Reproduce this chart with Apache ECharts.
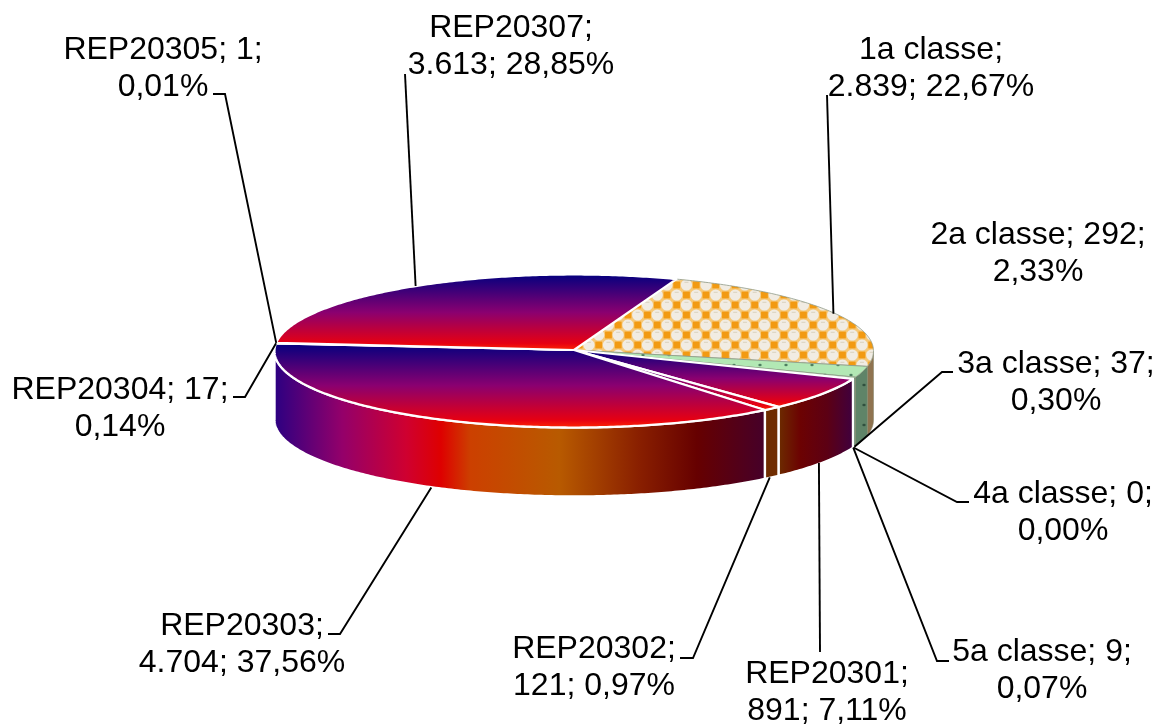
<!DOCTYPE html>
<html><head><meta charset="utf-8">
<style>html,body{margin:0;padding:0;background:#fff}#c{width:1161px;height:724px}</style>
<script src="https://cdn.jsdelivr.net/npm/echarts@6/dist/echarts.min.js"></script>
</head><body><div id="c"></div>
<script>
const categories = ['1a classe','2a classe','3a classe','4a classe','5a classe','REP20301','REP20302','REP20303','REP20304','REP20305','REP20307'];
const values = [2839,292,37,0,9,891,121,4704,17,1,3613];
const labelTexts = [
  '1a classe;\n2.839; 22,67%','2a classe; 292;\n2,33%','3a classe; 37;\n0,30%','4a classe; 0;\n0,00%','5a classe; 9;\n0,07%',
  'REP20301;\n891; 7,11%','REP20302;\n121; 0,97%','REP20303;\n4.704; 37,56%','REP20304; 17;\n0,14%','REP20305; 1;\n0,01%','REP20307;\n3.613; 28,85%'
];
// layout: label centre x / first baseline y, leader points between label and pie
const labelCx = [931,1038,1056,1063,1042,827,594,242,120,163,511];
const labelBase = [58,243,372,502,660,682,657,634,398,58,36];
const leaderEnds = [
  [[827,95]],null,[[953,372],[942,372]],[[969,502],[957,502]],[[949,661],[937,661]],
  [[820,652]],[[680,658],[693,658]],[[328,634],[340,634]],[[233,397],[245,397]],[[213,94],[225,94]],[[405,74]]
];
const anchorNudge = [-2,0,0,0,0,-3,-2,-2,0,0,0];
const onWall = [false,false,true,true,true,true,true,true,false,false,false];
const CX=574, CY=351, RX=299.5, RY=76.5, DEPTH=69, START=70;
const FONT='32px "Liberation Sans", Arial, sans-serif', LINE=37;

const total = values.reduce((a,b)=>a+b,0);
const D2R=Math.PI/180;
const angles=[]; let acc=START;
values.forEach(v=>{const a0=acc; acc-=v/total*360; angles.push([a0,acc]);});
const pt=(t,dz)=>[CX+RX*Math.cos(t*D2R),CY-RY*Math.sin(t*D2R)+(dz||0)];
function arc(t0,t1,dz){const n=Math.max(2,Math.ceil(Math.abs(t0-t1)*1.5));const r=[];for(let i=0;i<=n;i++)r.push(pt(t0+(t1-t0)*i/n,dz));return r;}

function tile(w,h,draw){const c=document.createElement('canvas');c.width=w;c.height=h;draw(c.getContext('2d'),w,h);return {image:c,repeat:'repeat'};}
const P=19.5,OX=13.7,OY=5;
const orangeP=tile(39,20,(g,w,h)=>{
  g.fillStyle='#f6c878';g.fillRect(0,0,w,h);
  const sq=[],ci=[];
  for(let i=-1;i<=3;i++)for(let j=-1;j<=2;j++){
    sq.push([i*P+OX,j*20+OY]);sq.push([i*P+OX+P/2,j*20+OY+10]);
    ci.push([i*P+OX+P/2,j*20+OY]);ci.push([i*P+OX,j*20+OY+10]);
  }
  g.fillStyle='#f29a12';sq.forEach(s=>g.fillRect(s[0]-3.4,s[1]-3.4,6.8,6.8));
  ci.forEach(s=>{g.fillStyle='#f1ece3';g.beginPath();g.arc(s[0],s[1],5.6,0,7);g.fill();
    g.fillStyle='#d9d2bf';g.fillRect(s[0]-2,s[1]-3.2,4,1);});
});
const dots=(bg,dot)=>tile(26,20,(g,w,h)=>{g.fillStyle=bg;g.fillRect(0,0,w,h);g.fillStyle=dot;
  [[6,5],[19,15]].forEach(d=>{g.beginPath();g.ellipse(d[0],d[1],1.7,1.3,0,0,7);g.fill();});});
const greenP=dots('#b2e8b4','#4d7f60');
const greenWall=dots('#5f8468','#2f4f3e');
const brownWall=dots('#8f7350','#6b5238');

const lin=(x2,y2,st)=>({type:'linear',x:0,y:0,x2,y2,colorStops:st.map(s=>({offset:s[0],color:s[1]}))});
const TOP=lin(0,1,[[0,'#00007f'],[.5,'#8a0070'],[.9,'#e60012'],[1,'#ff2a00']]);
const topFill=i=>i===0?orangeP:(i<=2||i===4?greenP:TOP);
const wallFill=i=>{
  if(i===0)return brownWall;
  if(i<=4)return greenWall;
  if(i===5)return lin(1,0,[[0,'#6c2e00'],[.3,'#6c0202'],[.65,'#5c0014'],[1,'#3e0040']]);
  if(i===6)return lin(1,0,[[0,'#6e2c00'],[1,'#702c00']]);
  return lin(1,0,[[0,'#2a0082'],[.14,'#94006a'],[.27,'#cf0030'],[.34,'#de0000'],[.4,'#cc4000'],[.58,'#b85a00'],[.74,'#8a2000'],[.86,'#660000'],[1,'#45002a']]);
};

function wallItem(p,api){
  const i=p.dataIndex; if(!api.value(0))return {type:'group',children:[]};
  const a0=Math.min(angles[i][0],0), a1=Math.max(angles[i][1],-180);
  if(a0<=a1)return {type:'group',children:[]};
  const pts=arc(a0,a1,0).concat(arc(a1,a0,DEPTH));
  const white=i>=5;
  return {type:'polygon',shape:{points:pts},style:{fill:wallFill(i),stroke:white?'#fff':'#8a8a70',lineWidth:white?2.4:.6,lineJoin:'round'},silent:true};
}
function topItem(p,api){
  const i=p.dataIndex; if(!api.value(0))return {type:'group',children:[]};
  const pts=[[CX,CY-1]].concat(arc(angles[i][0],angles[i][1],0));
  const pat=i<=2||i===4;
  return {type:'polygon',shape:{points:pts},style:{fill:topFill(i),stroke:pat?'#8f9a88':'#fff',lineWidth:pat?.8:2.2,lineJoin:'round'},silent:true};
}
function labelItem(p,api){
  const i=p.dataIndex, kids=[];
  const mid=(angles[i][0]+angles[i][1])/2;
  const a=pt(mid,onWall[i]?DEPTH:0);
  const anchor=[a[0]+anchorNudge[i],a[1]];
  if(leaderEnds[i]){
    kids.push({type:'polyline',shape:{points:leaderEnds[i].concat([anchor])},style:{stroke:'#000',lineWidth:1.9,fill:null},silent:true});
  }
  kids.push({type:'text',style:{text:labelTexts[i],x:labelCx[i],y:labelBase[i]-26,font:FONT,lineHeight:LINE,fill:'#000',align:'center',verticalAlign:'top'},silent:true});
  return {type:'group',children:kids};
}
const dataset=categories.map((n,i)=>({name:n,value:[values[i]]}));
const chart=echarts.init(document.getElementById('c'),null,{renderer:'canvas'});
chart.setOption({
  animation:false,backgroundColor:'#fff',
  series:[
    {type:'custom',coordinateSystem:'none',renderItem:wallItem,data:dataset,z:1},
    {type:'custom',coordinateSystem:'none',renderItem:topItem,data:dataset,z:2},
    {type:'custom',coordinateSystem:'none',renderItem:labelItem,data:dataset,z:3}
  ]
});
</script></body></html>
